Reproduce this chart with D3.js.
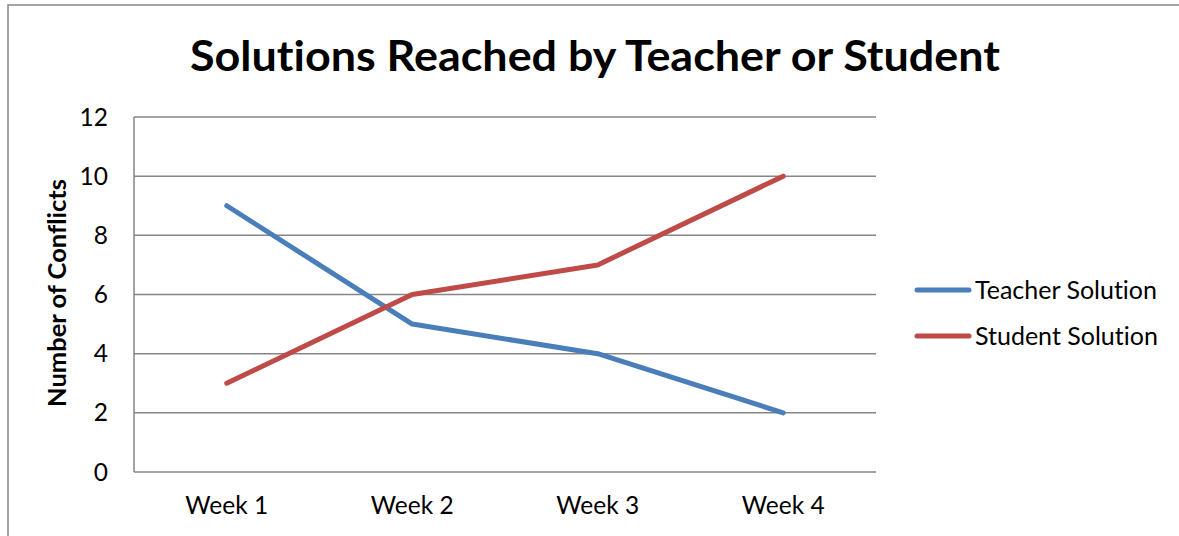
<!DOCTYPE html>
<html lang="en">
<head>
    <meta charset="UTF-8">
    <title>Solutions Reached by Teacher or Student</title>
    <script src="https://d3js.org/d3.v7.min.js"></script>
    <style>
        body { margin: 0; background: #fff; }
        svg { display: block; font-family: Lato, "Open Sans", sans-serif; font-variant-ligatures: none; }
        .tick-label { font-size: 24.5px; fill: #000; }
        .legend-label { font-size: 25px; fill: #000; }
    </style>
</head>
<body>
<script>
    const weeks = ["Week 1", "Week 2", "Week 3", "Week 4"];
    const teacher = [9, 5, 4, 2];
    const student = [3, 6, 7, 10];
    const yTicks = [0, 2, 4, 6, 8, 10, 12];

    const series = [
        {name: "Teacher Solution", values: teacher, color: "#4a7ebb"},
        {name: "Student Solution", values: student, color: "#be4b48"}
    ];

    const width = 1179, height = 536;
    const plot = {left: 134, right: 876, top: 117, bottom: 472};

    const svg = d3.select("body").append("svg")
        .attr("width", width)
        .attr("height", height);

    // chart frame
    svg.append("rect")
        .attr("x", 8).attr("y", 5)
        .attr("width", width + 10).attr("height", height + 10)
        .attr("fill", "none")
        .attr("stroke", "#868686")
        .attr("stroke-width", 1.5);

    svg.append("text")
        .attr("x", 595).attr("y", 71)
        .attr("text-anchor", "middle")
        .attr("font-size", 42)
        .attr("font-weight", "bold")
        .attr("textLength", 810)
        .attr("lengthAdjust", "spacingAndGlyphs")
        .text("Solutions Reached by Teacher or Student");

    const x = d3.scaleBand().domain(weeks).range([plot.left, plot.right]);
    const y = d3.scaleLinear().domain([0, 12]).range([plot.bottom, plot.top]);

    // gridlines
    svg.append("g")
        .selectAll("line")
        .data(yTicks.filter(d => d > 0))
        .join("line")
        .attr("x1", plot.left).attr("x2", plot.right)
        .attr("y1", d => y(d)).attr("y2", d => y(d))
        .attr("stroke", "#868686")
        .attr("stroke-width", 1.5);

    // axes lines
    svg.append("line")
        .attr("x1", plot.left).attr("x2", plot.left)
        .attr("y1", plot.top).attr("y2", plot.bottom)
        .attr("stroke", "#868686").attr("stroke-width", 1.5);
    svg.append("line")
        .attr("x1", plot.left).attr("x2", plot.right)
        .attr("y1", plot.bottom).attr("y2", plot.bottom)
        .attr("stroke", "#868686").attr("stroke-width", 1.5);

    svg.append("g")
        .selectAll("text")
        .data(yTicks)
        .join("text")
        .attr("class", "tick-label")
        .attr("x", 108)
        .attr("y", d => y(d))
        .attr("dy", "0.35em")
        .attr("text-anchor", "end")
        .text(d => d);

    svg.append("g")
        .selectAll("text")
        .data(weeks)
        .join("text")
        .attr("class", "tick-label")
        .attr("x", d => x(d) + x.bandwidth() / 2)
        .attr("y", 514)
        .attr("text-anchor", "middle")
        .text(d => d);

    svg.append("text")
        .attr("transform", "translate(66,293) rotate(-90)")
        .attr("text-anchor", "middle")
        .attr("font-size", 25.5)
        .attr("font-weight", "bold")
        .text("Number of Conflicts");

    const line = d3.line()
        .x((d, i) => x(weeks[i]) + x.bandwidth() / 2)
        .y(d => y(d));

    svg.append("g")
        .selectAll("path")
        .data(series)
        .join("path")
        .attr("fill", "none")
        .attr("stroke", d => d.color)
        .attr("stroke-width", 5)
        .attr("stroke-linejoin", "round")
        .attr("stroke-linecap", "round")
        .attr("d", d => line(d.values));

    // legend
    const legend = svg.append("g")
        .selectAll("g")
        .data(series)
        .join("g")
        .attr("transform", (d, i) => `translate(917,${290 + i * 46})`);

    legend.append("line")
        .attr("x1", 0).attr("x2", 52)
        .attr("stroke", d => d.color)
        .attr("stroke-width", 5)
        .attr("stroke-linecap", "round");

    legend.append("text")
        .attr("class", "legend-label")
        .attr("x", 58)
        .attr("dy", "0.35em")
        .text(d => d.name);
</script>
</body>
</html>
